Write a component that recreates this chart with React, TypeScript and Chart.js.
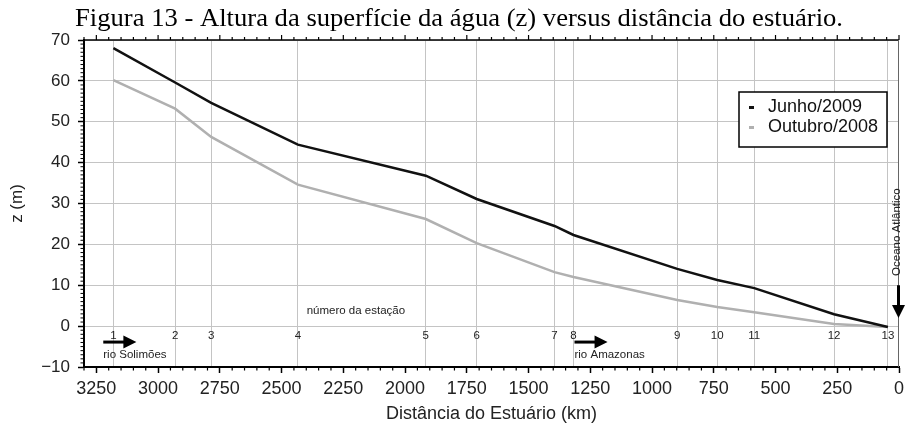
import React, { useEffect, useRef } from 'react';
import { Chart, registerables } from 'chart.js';

Chart.register(...registerables);

// ---- data ----
const stationNumbers = ['1', '2', '3', '4', '5', '6', '7', '8', '9', '10', '11', '12', '13'];
const distanceKm = [3181, 2931, 2785, 2434, 1916, 1710, 1395, 1318, 898, 736, 586, 263, 45];
const junho2009 = [68.0, 59.6, 54.6, 44.4, 36.8, 31.1, 24.5, 22.3, 14.0, 11.3, 9.3, 2.9, -0.2];
const outubro2008 = [60.2, 53.2, 46.3, 34.6, 26.2, 20.3, 13.2, 12.0, 6.4, 4.7, 3.4, 0.5, -0.2];
const seriesLabels = ['Junho/2009', 'Outubro/2008'];
const xTickValues = [0, 250, 500, 750, 1000, 1250, 1500, 1750, 2000, 2250, 2500, 2750, 3000, 3250];
const yTickValues = [-10, 0, 10, 20, 30, 40, 50, 60, 70];

const TITLE = 'Figura 13 - Altura da superfície da água (z) versus distância do estuário.';
const X_TITLE = 'Distância do Estuário (km)';
const Y_TITLE = 'z (m)';

const SANS = '"Liberation Sans", Arial, Helvetica, sans-serif';
const SERIF = '"Liberation Serif", "Times New Roman", serif';

const BLACK = '#111111';
const GRAY = '#b0b0b0';

function drawArrowH(ctx: CanvasRenderingContext2D, x0: number, x1: number, yy: number) {
  ctx.beginPath();
  ctx.lineWidth = 3;
  ctx.strokeStyle = '#000';
  ctx.moveTo(x0, yy);
  ctx.lineTo(x1 - 11, yy);
  ctx.stroke();
  ctx.beginPath();
  ctx.fillStyle = '#000';
  ctx.moveTo(x1 - 13, yy - 6.5);
  ctx.lineTo(x1, yy);
  ctx.lineTo(x1 - 13, yy + 6.5);
  ctx.closePath();
  ctx.fill();
}

function drawArrowDown(ctx: CanvasRenderingContext2D, xx: number, y0: number, y1: number) {
  ctx.beginPath();
  ctx.lineWidth = 3;
  ctx.strokeStyle = '#000';
  ctx.moveTo(xx, y0);
  ctx.lineTo(xx, y1 - 11);
  ctx.stroke();
  ctx.beginPath();
  ctx.fillStyle = '#000';
  ctx.moveTo(xx - 6.5, y1 - 13);
  ctx.lineTo(xx, y1);
  ctx.lineTo(xx + 6.5, y1 - 13);
  ctx.closePath();
  ctx.fill();
}

export default function App() {
  const ref = useRef<HTMLCanvasElement>(null);

  useEffect(() => {
    document.body.style.margin = '0';
    const canvas = ref.current!;

    const overlay = {
      id: 'overlay',
      afterDraw(chart: any) {
        const { ctx, chartArea: a, scales } = chart;
        const xs = scales.x;
        const ys = scales.y;
        ctx.save();

        // title (stretched horizontally to the reference's width)
        ctx.save();
        ctx.fillStyle = '#000';
        ctx.font = `25px ${SERIF}`;
        ctx.textAlign = 'center';
        ctx.textBaseline = 'alphabetic';
        const tw = ctx.measureText(TITLE).width;
        const sx = 768 / tw;
        ctx.translate(459, 26);
        ctx.scale(sx, 1);
        ctx.fillText(TITLE, 0, 0);
        ctx.restore();

        // top frame
        ctx.strokeStyle = '#000';
        ctx.lineWidth = 1.5;
        ctx.beginPath();
        ctx.moveTo(a.left, a.top);
        ctx.lineTo(a.right, a.top);
        ctx.stroke();
        // right frame
        ctx.strokeStyle = '#666';
        ctx.lineWidth = 1;
        ctx.beginPath();
        ctx.moveTo(a.right - 0.5, a.top);
        ctx.lineTo(a.right - 0.5, a.bottom);
        ctx.stroke();

        // x minor ticks (bottom) and top ticks
        ctx.strokeStyle = '#000';
        ctx.lineWidth = 1.2;
        for (let v = 0; v <= 3300; v += 50) {
          const px = xs.getPixelForValue(v);
          const major = v % 250 === 0;
          ctx.beginPath();
          if (!major) {
            ctx.moveTo(px, a.bottom);
            ctx.lineTo(px, a.bottom + 3.5);
          }
          ctx.moveTo(px, a.top);
          ctx.lineTo(px, a.top - (major ? 5 : 3));
          ctx.stroke();
        }
        // y minor ticks
        ctx.lineWidth = 1;
        for (let v = -10; v <= 70; v += 1) {
          if (v % 10 === 0) continue;
          const py = ys.getPixelForValue(v);
          ctx.beginPath();
          ctx.moveTo(a.left, py);
          ctx.lineTo(a.left - 3.5, py);
          ctx.stroke();
        }

        // station numbers
        ctx.fillStyle = '#222';
        ctx.font = `11.5px ${SANS}`;
        ctx.textAlign = 'center';
        ctx.textBaseline = 'middle';
        stationNumbers.forEach((s, i) => {
          ctx.fillText(s, xs.getPixelForValue(distanceKm[i]), ys.getPixelForValue(-2.3));
        });
        ctx.fillText('número da estação', xs.getPixelForValue(2199), ys.getPixelForValue(3.7));

        // river labels
        ctx.textAlign = 'left';
        ctx.fillText('rio Solimões', xs.getPixelForValue(3222), ys.getPixelForValue(-7.1));
        ctx.fillText('rio Amazonas', xs.getPixelForValue(1314), ys.getPixelForValue(-7.1));
        drawArrowH(ctx, xs.getPixelForValue(3222), xs.getPixelForValue(3088), ys.getPixelForValue(-3.9));
        drawArrowH(ctx, xs.getPixelForValue(1314), xs.getPixelForValue(1180), ys.getPixelForValue(-3.9));

        // Oceano Atlântico
        ctx.save();
        ctx.translate(xs.getPixelForValue(10), ys.getPixelForValue(23));
        ctx.rotate(-Math.PI / 2);
        ctx.textAlign = 'center';
        ctx.textBaseline = 'middle';
        ctx.fillStyle = '#222';
        ctx.fillText('Oceano Atlântico', 0, 0);
        ctx.restore();
        drawArrowDown(ctx, xs.getPixelForValue(0) - 0.5, ys.getPixelForValue(10.0), ys.getPixelForValue(2.0));

        // legend
        ctx.fillStyle = '#fff';
        ctx.fillRect(739, 92, 148, 55);
        ctx.strokeStyle = '#000';
        ctx.lineWidth = 1.5;
        ctx.strokeRect(739, 92, 148, 55);
        ctx.fillStyle = BLACK;
        ctx.fillRect(749, 106, 5, 3);
        ctx.fillStyle = GRAY;
        ctx.fillRect(749, 126, 5, 3);
        ctx.fillStyle = '#111';
        ctx.font = `18px ${SANS}`;
        ctx.textAlign = 'left';
        ctx.textBaseline = 'middle';
        ctx.fillText(seriesLabels[0], 768, 107);
        ctx.fillText(seriesLabels[1], 768, 127.5);

        ctx.restore();
      },
    };

    const fmt = (v: any) => (Number(v) < 0 ? '\u2212' + Math.abs(Number(v)) : String(v));

    const chart = new Chart(canvas, {
      type: 'line',
      data: {
        datasets: [
          {
            label: seriesLabels[0],
            data: distanceKm.map((d, i) => ({ x: d, y: junho2009[i] })),
            borderColor: BLACK,
            backgroundColor: BLACK,
            borderWidth: 2.5,
            pointRadius: 0,
            tension: 0,
          },
          {
            label: seriesLabels[1],
            data: distanceKm.map((d, i) => ({ x: d, y: outubro2008[i] })),
            borderColor: GRAY,
            backgroundColor: GRAY,
            borderWidth: 2.5,
            pointRadius: 0,
            tension: 0,
          },
        ],
      },
      options: {
        responsive: false,
        animation: false,
        devicePixelRatio: 1,
        layout: { padding: { top: 40, right: 6, left: 0, bottom: 0 } },
        plugins: {
          legend: { display: false },
          title: { display: false },
          tooltip: { enabled: false },
        },
        scales: {
          x: {
            type: 'linear',
            reverse: true,
            min: 0,
            max: 3300,
            position: 'bottom',
            afterBuildTicks: (s: any) => {
              s.ticks = xTickValues.map((v) => ({ value: v }));
            },
            ticks: {
              autoSkip: false,
              maxRotation: 0,
              padding: 5,
              color: '#222',
              font: { family: SANS, size: 18 },
              callback: fmt,
            },
            grid: {
              drawOnChartArea: false,
              drawTicks: true,
              tickLength: 6,
              tickColor: '#000',
              tickWidth: 1.5,
            },
            border: { display: true, color: '#000', width: 2 },
            title: {
              display: true,
              text: X_TITLE,
              color: '#222',
              font: { family: SANS, size: 18 },
              padding: { top: 6, bottom: 5 },
            },
            afterFit: (s: any) => {
              s.height = 63;
            },
          },
          xs: {
            type: 'linear',
            reverse: true,
            min: 0,
            max: 3300,
            position: 'bottom',
            ticks: { display: false },
            grid: { color: '#c4c4c4', lineWidth: 1, drawTicks: false },
            border: { display: false },
            afterBuildTicks: (s: any) => {
              s.ticks = distanceKm.map((v) => ({ value: v }));
            },
            afterFit: (s: any) => {
              s.height = 0;
            },
          },
          y: {
            type: 'linear',
            min: -10,
            max: 70,
            afterBuildTicks: (s: any) => {
              s.ticks = yTickValues.map((v) => ({ value: v }));
            },
            ticks: {
              padding: 8,
              color: '#222',
              font: { family: SANS, size: 17 },
              callback: fmt,
            },
            grid: {
              color: '#c4c4c4',
              lineWidth: 1,
              drawTicks: true,
              tickLength: 6,
              tickColor: '#000',
              tickWidth: 1.5,
            },
            border: { display: true, color: '#000', width: 2 },
            title: {
              display: true,
              text: Y_TITLE,
              color: '#222',
              font: { family: SANS, size: 17 },
              padding: { top: 7, bottom: 0 },
            },
            afterFit: (s: any) => {
              s.width = 84;
            },
          },
        },
      },
      plugins: [overlay],
    } as any);

    return () => chart.destroy();
  }, []);

  return <canvas ref={ref} width={905} height={430} style={{ display: 'block' }} />;
}
